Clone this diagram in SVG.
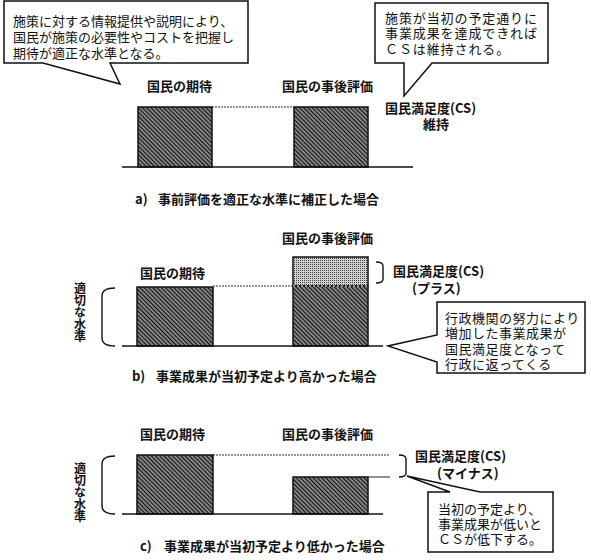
<svg xmlns="http://www.w3.org/2000/svg" width="591" height="560" viewBox="0 0 591 560">
<defs>
<style>
text{font-family:"Noto Sans CJK JP","Noto Sans",sans-serif;fill:#111;}
.b{font-weight:bold;font-size:13px;}
.r{font-size:13px;}
.v{font-weight:bold;font-size:12px;writing-mode:vertical-rl;text-orientation:upright;}
.bar{fill:url(#hatch);stroke:#111;stroke-width:1.5;}
.plus{fill:url(#dots);stroke:#111;stroke-width:1.5;}
.box{fill:#fff;stroke:#111;stroke-width:1.5;}
.ln{fill:none;stroke:#111;stroke-width:1.5;}
.dash{fill:none;stroke:#333;stroke-width:1;stroke-dasharray:2 1;}
.brk{fill:none;stroke:#111;stroke-width:1.4;}
</style>
<pattern id="hatch" width="3" height="3" patternUnits="userSpaceOnUse" patternTransform="rotate(-45)">
<rect width="3" height="3" fill="#888"/>
<line x1="0" y1="0" x2="0" y2="3" stroke="#111" stroke-width="2.2"/>
</pattern>
<pattern id="dots" width="2" height="2" patternUnits="userSpaceOnUse">
<rect width="2" height="2" fill="#d0d0d0"/>
<rect width="1" height="1" fill="#444"/>
</pattern>
</defs>

<!-- section a -->
<g id="callout-a1">
<path class="box" d="M4,1 H248 V63 H110 L120,84 L43,63 H4 Z"/>
<text class="r" dominant-baseline="central"><tspan x="13" y="20">施策に対する情報提供や説明により、</tspan><tspan x="13" y="36">国民が施策の必要性やコストを把握し</tspan><tspan x="13" y="52">期待が適正な水準となる。</tspan></text>
</g>
<g id="callout-a2">
<path class="box" d="M375,3 H548 V63 H432 L404,96 L404,63 H375 Z"/>
<text class="r" dominant-baseline="central" letter-spacing="0.9"><tspan x="385" y="17">施策が当初の予定通りに</tspan><tspan x="385" y="32">事業成果を達成できれば</tspan><tspan x="385" y="48">ＣＳは維持される。</tspan></text>
</g>
<g id="chart-a">
<text class="b" x="147" y="85" dominant-baseline="central">国民の期待</text>
<text class="b" x="282" y="85" dominant-baseline="central">国民の事後評価</text>
<line class="dash" x1="212" y1="107" x2="294" y2="107"/>
<rect class="bar" x="138" y="107" width="74" height="60"/>
<rect class="bar" x="294" y="107" width="74" height="60"/>
<line class="ln" x1="122" y1="167" x2="413" y2="167"/>
<text class="b" dominant-baseline="central"><tspan x="385" y="107">国民満足度(CS)</tspan><tspan x="423" y="123">維持</tspan></text>
<text class="b" y="198" dominant-baseline="central"><tspan x="135">a)</tspan><tspan x="158">事前評価を適正な水準に補正した場合</tspan></text>
</g>

<!-- section b -->
<g id="chart-b">
<text class="b" x="282" y="237" dominant-baseline="central">国民の事後評価</text>
<text class="b" x="140" y="272" dominant-baseline="central">国民の期待</text>
<line class="dash" x1="213" y1="286" x2="293" y2="286"/>
<rect class="bar" x="137" y="287" width="76" height="59"/>
<rect class="plus" x="293" y="257" width="75" height="29"/>
<rect class="bar" x="293" y="286" width="75" height="60"/>
<line x1="293" y1="286" x2="368" y2="286" stroke="#fff" stroke-width="1.2" stroke-dasharray="2 2"/>
<line class="ln" x1="122" y1="346" x2="383" y2="346"/>
<path class="brk" d="M376,262 Q383,262 383,266 V279 Q383,283 376,283"/>
<text class="b" dominant-baseline="central"><tspan x="393" y="270">国民満足度(CS)</tspan><tspan x="412" y="287">(プラス)</tspan></text>
<path class="brk" d="M115,288 Q102,288 102,296 V338 Q102,346 115,346"/>
<text class="v" x="80" y="282">適切な水準</text>
<text class="b" y="375" dominant-baseline="central"><tspan x="132">b)</tspan><tspan x="156">事業成果が当初予定より高かった場合</tspan></text>
</g>
<g id="callout-b">
<path class="box" d="M437,302 H585 V373 H437 V362 L388,346 L437,335 Z"/>
<text class="r" dominant-baseline="central" letter-spacing="0.5"><tspan x="445" y="317">行政機関の努力により</tspan><tspan x="445" y="332">増加した事業成果が</tspan><tspan x="445" y="348">国民満足度となって</tspan><tspan x="445" y="363">行政に返ってくる</tspan></text>
</g>

<!-- section c -->
<g id="chart-c">
<text class="b" x="140" y="433" dominant-baseline="central">国民の期待</text>
<text class="b" x="282" y="433" dominant-baseline="central">国民の事後評価</text>
<line class="dash" x1="213" y1="455" x2="390" y2="455"/>
<rect class="bar" x="137" y="455" width="76" height="59"/>
<rect class="bar" x="293" y="477" width="75" height="37"/>
<line x1="368" y1="477" x2="390" y2="477" stroke="#222" stroke-width="1"/>
<line class="ln" x1="122" y1="514" x2="383" y2="514"/>
<path class="brk" d="M399,455 Q406,455 406,459 V473 Q406,477 399,477"/>
<text class="b" dominant-baseline="central"><tspan x="415" y="455">国民満足度(CS)</tspan><tspan x="437" y="472">(マイナス)</tspan></text>
<path class="brk" d="M115,456 Q102,456 102,464 V506 Q102,514 115,514"/>
<text class="v" x="80" y="462" font-size="11.5">適切な水準</text>
<text class="b" y="545" dominant-baseline="central"><tspan x="140">c)</tspan><tspan x="164">事業成果が当初予定より低かった場合</tspan></text>
</g>
<g id="callout-c">
<path class="box" d="M428,492 H450 L407,476 L480,492 H553 V552 H428 Z"/>
<text class="r" dominant-baseline="central"><tspan x="438" y="508">当初の予定より、</tspan><tspan x="438" y="523">事業成果が低いと</tspan><tspan x="438" y="538">ＣＳが低下する。</tspan></text>
</g>
</svg>
